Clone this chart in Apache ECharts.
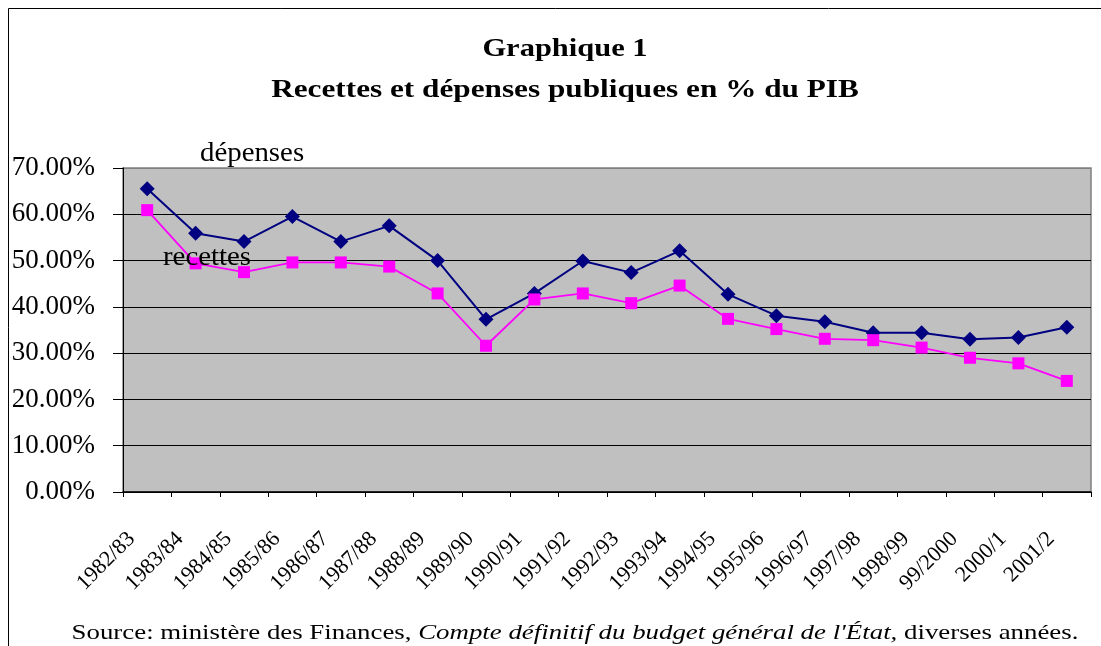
<!DOCTYPE html>
<html>
<head>
<meta charset="utf-8">
<title>Graphique 1</title>
<script src="https://cdn.jsdelivr.net/npm/echarts@6/dist/echarts.min.js"></script>
<style>
  html, body { margin: 0; padding: 0; background: #fff; }
  #chart { width: 1101px; height: 646px; }
</style>
</head>
<body>
<div id="chart"></div>
<script>
var years = ['1982/83', '1983/84', '1984/85', '1985/86', '1986/87', '1987/88', '1988/89',
  '1989/90', '1990/91', '1991/92', '1992/93', '1993/94', '1994/95', '1995/96',
  '1996/97', '1997/98', '1998/99', '99/2000', '2000/1', '2001/2'];

// en % du PIB
var depenses = [65.5, 55.9, 54.1, 59.5, 54.1, 57.5, 50.0, 37.3, 42.9, 49.9,
  47.4, 52.1, 42.7, 38.1, 36.8, 34.4, 34.4, 33.0, 33.4, 35.6];
var recettes = [60.9, 49.4, 47.5, 49.6, 49.6, 48.7, 42.9, 31.6, 41.6, 42.9,
  40.8, 44.6, 37.4, 35.2, 33.1, 32.8, 31.2, 29.0, 27.8, 24.0];

var yTicks = [0, 10, 20, 30, 40, 50, 60, 70];

(function () {
    var serif = '"Liberation Serif", "Times New Roman", serif';
    var chartDom = document.getElementById('chart');
    var myChart = echarts.init(chartDom);
    var option;

    // le texte d'Excel est un peu etire en largeur
    function label(txt, x, y, size, opts) {
        opts = opts || {};
        return {
            type: 'text',
            x: x,
            y: y,
            scaleX: opts.scaleX || 1,
            z: 10,
            silent: true,
            style: {
                text: txt,
                fontFamily: serif,
                fontSize: size,
                fontWeight: opts.bold ? 'bold' : 'normal',
                fill: '#000',
                textAlign: opts.align || 'center',
                textVerticalAlign: 'middle',
                rich: opts.rich
            }
        };
    }

    option = {
        backgroundColor: '#fff',
        animation: false,
        grid: {
            left: 123,
            right: 10,
            top: 168,
            bottom: 154,
            show: true,
            backgroundColor: '#C0C0C0',
            borderColor: '#808080',
            borderWidth: 1.5
        },
        xAxis: {
            type: 'category',
            data: years,
            boundaryGap: true,
            axisLine: { lineStyle: { color: '#000', width: 1.5 } },
            axisTick: { show: true, interval: 0, length: 5, lineStyle: { color: '#000' } },
            axisLabel: {
                interval: 0,
                rotate: 45,
                margin: 28,
                padding: [0, 22, 0, 0],
                fontFamily: serif,
                fontSize: 22,
                color: '#000'
            },
            splitLine: { show: false }
        },
        yAxis: {
            type: 'value',
            min: yTicks[0],
            max: yTicks[yTicks.length - 1],
            interval: 10,
            axisLine: { show: true, lineStyle: { color: '#000', width: 1 } },
            axisTick: { show: true, length: 10, lineStyle: { color: '#000' } },
            axisLabel: {
                margin: 28,
                fontFamily: serif,
                fontSize: 27,
                color: '#000',
                formatter: function (v) { return v.toFixed(2) + '%'; }
            },
            splitLine: {
                show: true,
                lineStyle: {
                    color: ['#000', '#000', '#000', '#000', '#000', '#000', '#000', '#808080'],
                    width: 1
                }
            }
        },
        graphic: [
            {
                type: 'rect',
                silent: true,
                shape: { x: 8.5, y: 8.5, width: 1200, height: 700 },
                style: { fill: 'none', stroke: '#000', lineWidth: 1 }
            },
            label('Graphique 1', 565, 50, 25, { bold: true, scaleX: 1.22 }),
            label('Recettes et dépenses publiques en % du PIB', 565, 91, 25, { bold: true, scaleX: 1.25 }),
            label('dépenses', 200, 154, 28, { align: 'left', scaleX: 1.03 }),
            label('recettes', 163, 258, 28, { align: 'left', scaleX: 1.03 }),
            label('Source: ministère des Finances, {i|Compte définitif du budget général de l\'État,} diverses années.',
                575, 633, 22, {
                    scaleX: 1.22,
                    rich: { i: { fontFamily: serif, fontSize: 22, fontStyle: 'italic' } }
                })
        ],
        series: [
            {
                name: 'dépenses',
                type: 'line',
                data: depenses,
                symbol: 'diamond',
                symbolSize: 15,
                color: '#000080',
                lineStyle: { color: '#000080', width: 2 },
                itemStyle: { color: '#000080' },
                z: 3
            },
            {
                name: 'recettes',
                type: 'line',
                data: recettes,
                symbol: 'rect',
                symbolSize: 12,
                color: '#FF00FF',
                lineStyle: { color: '#FF00FF', width: 1.8 },
                itemStyle: { color: '#FF00FF' },
                z: 4
            }
        ]
    };

    option && myChart.setOption(option);
})();
</script>
</body>
</html>
